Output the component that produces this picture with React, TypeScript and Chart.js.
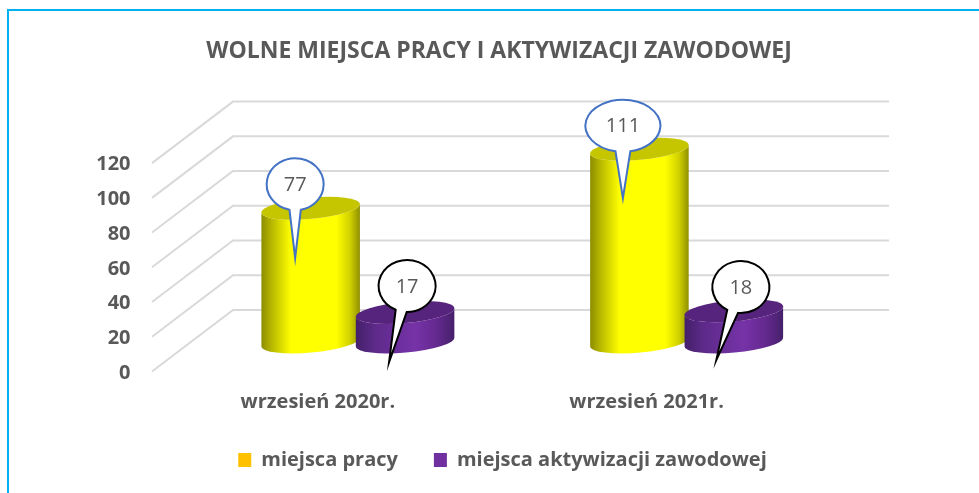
import React, { useEffect, useRef } from "react";
import { Chart, registerables } from "chart.js";

Chart.register(...registerables);

const categories = ["wrzesień 2020r.", "wrzesień 2021r."];
const seriesNames = ["miejsca pracy", "miejsca aktywizacji zawodowej"];
const miejscaPracy = [77, 111];
const miejscaAktywizacji = [17, 18];
const legendColors = ["#FFC000", "#7030A0"];
const capColors = ["#C6C600", "#56247C"];
const bodyStops = [
  [[0, "#8C8C00"], [0.1, "#B5B500"], [0.3, "#FFFF00"], [0.76, "#FFFF00"], [0.9, "#D0D000"], [1, "#8E8E00"]],
  [[0, "#43206A"], [0.2, "#5E2A8A"], [0.6, "#7633A8"], [0.82, "#64298F"], [1, "#45206A"]],
];
const calloutStrokes = ["#4472C4", "#000000"];
// callout geometry relative to each bar's top, in px: [bubble dx, bubble dy, tip dx, tip dy]
const calloutGeometry = [
  [[-15.5, -24, -15.5, 49.7], [-16.5, -23.5, -16.5, 49]],
  [[2, -26.5, -16, 49.6], [7, -23.7, -17.5, 49.3]],
];

const TEXT = "#595959";
const FONT = "'Open Sans'";
const BACK = { dx: 0, dy: -32 };
const FRONT = { x: 152, dy: 29.5 };
const BACK_X = 233;
const GRID_RIGHT = 889;

const scenePlugin = {
  id: "scene",
  afterLayout(chart: any) {
    if (chart.legend) {
      chart.legend.left = 26;
      chart.legend.right = 979;
      chart.legend.width = 953;
    }
    if (chart.titleBlock) {
      chart.titleBlock.left = 19;
      chart.titleBlock.right = 979;
      chart.titleBlock.width = 960;
    }
  },
  beforeDatasetsDraw(chart: any) {
    const { ctx, scales } = chart;
    const y = scales.y;
    ctx.save();
    // frame
    ctx.strokeStyle = "#00B0F0";
    ctx.lineWidth = 2;
    ctx.beginPath();
    ctx.moveTo(8, 493);
    ctx.lineTo(8, 10);
    ctx.lineTo(979, 10);
    ctx.stroke();
    // walls
    ctx.strokeStyle = "#D9D9D9";
    ctx.lineWidth = 2;
    y.ticks.forEach((t: any) => {
      const py = y.getPixelForValue(t.value);
      ctx.beginPath();
      ctx.moveTo(FRONT.x, py + FRONT.dy);
      ctx.lineTo(BACK_X, py + BACK.dy);
      ctx.lineTo(GRID_RIGHT, py + BACK.dy);
      ctx.stroke();
    });
    // cylinders
    chart.data.datasets.forEach((_: any, di: number) => {
      chart.getDatasetMeta(di).data.forEach((bar: any) => {
        const rx = bar.width / 2;
        const ry = 10.6;
        const rot = -0.09;
        const g = ctx.createLinearGradient(bar.x - rx, 0, bar.x + rx, 0);
        bodyStops[di].forEach((s: any) => g.addColorStop(s[0], s[1]));
        ctx.fillStyle = g;
        ctx.beginPath();
        ctx.ellipse(bar.x, bar.base, rx, ry, rot, 0, Math.PI, false);
        ctx.ellipse(bar.x, bar.y, rx, ry, rot, Math.PI, 0, true);
        ctx.closePath();
        ctx.fill();
        ctx.fillStyle = capColors[di];
        ctx.beginPath();
        ctx.ellipse(bar.x, bar.y, rx, ry, rot, 0, Math.PI * 2);
        ctx.fill();
      });
    });
    ctx.restore();
  },
  afterDatasetsDraw(chart: any) {
    const { ctx } = chart;
    ctx.save();
    chart.data.datasets.forEach((ds: any, di: number) => {
      chart.getDatasetMeta(di).data.forEach((bar: any, i: number) => {
        const [bdx, bdy, tdx, tdy] = calloutGeometry[di][i];
        const cx = bar.x + bdx;
        const cy = bar.y + bdy;
        const tx = bar.x + tdx;
        const ty = bar.y + tdy;
        const label = String(ds.data[i]);
        const rx = label.length > 2 ? 37.5 : 28.5;
        const ry = 26;
        const angle = Math.atan2((ty - cy) / ry, (tx - cx) / rx);
        const spread = 0.2;
        ctx.beginPath();
        ctx.ellipse(cx, cy, rx, ry, 0, angle + spread, angle - spread + Math.PI * 2);
        ctx.lineTo(tx, ty);
        ctx.closePath();
        ctx.fillStyle = "#FFFFFF";
        ctx.fill();
        ctx.strokeStyle = calloutStrokes[di];
        ctx.lineWidth = 2;
        ctx.stroke();
        ctx.fillStyle = TEXT;
        ctx.font = `20px ${FONT}`;
        ctx.textAlign = "center";
        ctx.textBaseline = "middle";
        ctx.fillText(label, cx, cy + 1);
      });
    });
    ctx.restore();
  },
};

export default function App() {
  const ref = useRef<HTMLCanvasElement>(null);
  useEffect(() => {
    document.body.style.margin = "0";
    const chart = new Chart(ref.current as HTMLCanvasElement, {
      type: "bar",
      data: {
        labels: categories,
        datasets: [
          { label: seriesNames[0], data: miejscaPracy, backgroundColor: "transparent" },
          { label: seriesNames[1], data: miejscaAktywizacji, backgroundColor: "transparent" },
        ],
      },
      options: {
        responsive: false,
        animation: false,
        layout: { padding: { left: 19, right: 128, top: 0, bottom: 13 } },
        datasets: { bar: { categoryPercentage: 0.5745, barPercentage: 1.0476 } },
        plugins: {
          title: {
            display: true,
            text: "WOLNE MIEJSCA PRACY I AKTYWIZACJI ZAWODOWEJ",
            color: TEXT,
            font: { family: FONT, size: 23, weight: "bold" },
            padding: { top: 38, bottom: 68 },
          },
          legend: {
            position: "bottom",
            labels: {
              color: TEXT,
              font: { family: FONT, size: 20, weight: "bold" },
              boxWidth: 13,
              boxHeight: 14,
              padding: 36,
              generateLabels: () =>
                seriesNames.map((text, i) => ({
                  text,
                  fillStyle: legendColors[i],
                  strokeStyle: legendColors[i],
                  lineWidth: 0,
                  fontColor: TEXT,
                  datasetIndex: i,
                })),
            },
          },
          tooltip: { enabled: false },
        },
        scales: {
          x: {
            grid: { display: false },
            border: { display: false },
            ticks: {
              color: TEXT,
              font: { family: FONT, size: 20, weight: "bold" },
              labelOffset: -40,
              padding: 40,
              maxRotation: 0,
            },
            afterFit: (s: any) => { s.height = 72; },
          },
          y: {
            min: 0,
            max: 120,
            grid: { display: false },
            border: { display: false },
            ticks: {
              stepSize: 20,
              color: TEXT,
              font: { family: FONT, size: 20, weight: "bold" },
              labelOffset: 31,
              padding: 55,
            },
            afterFit: (s: any) => { s.width = 174.5; },
          },
        },
      },
      plugins: [scenePlugin],
    } as any);
    return () => chart.destroy();
  }, []);
  return <canvas ref={ref} width={979} height={493} style={{ display: "block" }} />;
}
